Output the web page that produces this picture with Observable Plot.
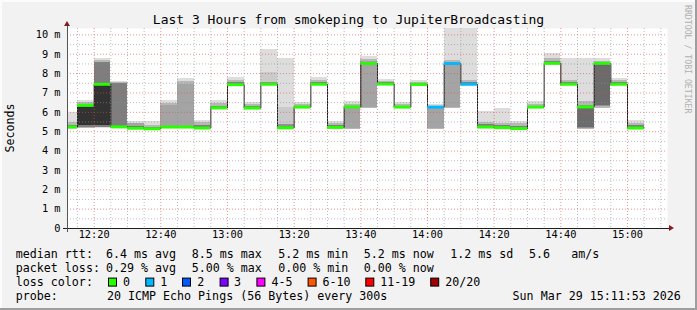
<!DOCTYPE html>
<html><head><meta charset="utf-8">
<script src="https://cdn.jsdelivr.net/npm/d3@7"></script>
<script src="https://cdn.jsdelivr.net/npm/@observablehq/plot@0.6"></script>
<style>
html,body{margin:0;padding:0;background:#f2f2f2;}
#chart{position:relative;width:697px;height:310px;overflow:hidden;}
#chart svg{display:block;}
</style></head><body><div id="chart"></div>
<script>
// ---- data ----
const intervalStarts = ["12:10","12:15","12:20","12:25","12:30","12:35","12:40","12:45","12:50","12:55",
  "13:00","13:05","13:10","13:15","13:20","13:25","13:30","13:35","13:40","13:45","13:50","13:55",
  "14:00","14:05","14:10","14:15","14:20","14:25","14:30","14:35","14:40","14:45","14:50","14:55","15:00"];
const medians = [5.24,6.36,7.45,5.25,5.18,5.15,5.24,5.24,5.19,6.23,7.43,6.22,7.45,5.20,6.27,7.45,5.22,6.28,
  8.52,7.46,6.27,7.44,6.27,8.52,7.45,5.24,5.21,5.16,6.27,8.53,7.45,6.28,8.53,7.45,5.19];
const losses = [0,0,0,0,0,0,0,0,0,0,0,0,0,0,0,0,0,0,0,0,0,0,1,1,1,0,0,0,0,0,0,0,0,0,0];
// smoke layers per interval: [low, high, band index 1..10]
const smokeLayers = [
  [[5.12,5.98,1],[5.16,5.45,3],[5.2,5.3,6]],
  [[5.15,6.62,1],[5.18,6.5,3],[5.22,6.42,6],[5.33,6.36,10]],
  [[5.18,8.78,1],[5.2,8.68,3],[5.24,8.56,6],[5.33,7.45,10]],
  [[5.18,7.6,1],[5.2,7.55,3],[5.24,7.5,6]],
  [[5.14,5.53,1],[5.16,5.4,4],[5.18,5.28,7]],
  [[5.1,5.52,1],[5.12,5.3,3],[5.13,5.2,6]],
  [[5.18,6.6,1],[5.2,6.45,3],[5.22,6.33,4]],
  [[5.18,7.75,1],[5.2,7.6,3],[5.22,7.45,4]],
  [[5.15,5.58,1],[5.17,5.45,3],[5.18,5.3,6]],
  [[6.15,6.62,1],[6.18,6.45,3],[6.2,6.32,6]],
  [[7.35,7.82,1],[7.38,7.65,3],[7.4,7.52,6]],
  [[6.15,6.52,1],[6.18,6.4,3],[6.2,6.3,6]],
  [[7.38,9.24,1],[7.4,8.05,2],[7.42,7.55,5]],
  [[5.15,8.8,1],[5.16,6.27,2],[5.18,5.36,5]],
  [[6.2,6.52,1],[6.22,6.4,3],[6.24,6.32,6]],
  [[7.38,7.82,1],[7.4,7.65,3],[7.42,7.52,6]],
  [[5.15,5.53,1],[5.18,5.42,3],[5.2,5.3,6]],
  [[5.1,6.56,1],[5.12,6.42,3],[5.15,6.3,4]],
  [[6.2,8.9,1],[6.22,8.75,3],[6.27,8.6,4]],
  [[7.38,7.7,1],[7.4,7.6,3],[7.42,7.52,6]],
  [[6.2,6.5,1],[6.22,6.4,3],[6.24,6.32,6]],
  [[7.38,7.65,1],[7.4,7.56,3],[7.42,7.5,6]],
  [[5.1,6.4,1],[5.12,6.32,3],[5.14,6.2,4]],
  [[6.2,10.6,1],[6.22,8.7,3],[6.27,8.55,4]],
  [[7.38,10.6,1],[7.4,7.65,3],[7.42,7.52,6]],
  [[5.18,6.05,1],[5.2,5.5,3],[5.22,5.38,6]],
  [[5.15,6.18,1],[5.18,5.42,3],[5.2,5.3,6]],
  [[5.1,5.53,1],[5.12,5.4,3],[5.14,5.25,6]],
  [[6.2,6.56,1],[6.22,6.42,3],[6.24,6.32,6]],
  [[8.45,9.02,1],[8.48,8.8,3],[8.5,8.65,6]],
  [[7.38,8.8,1],[7.4,7.65,3],[7.42,7.52,6]],
  [[5.1,8.78,1],[5.12,6.55,3],[5.18,6.35,5],[5.24,6.27,7]],
  [[6.2,8.78,1],[6.22,8.65,3],[6.3,8.55,5],[6.35,8.5,7]],
  [[7.38,7.77,1],[7.4,7.62,3],[7.42,7.52,6]],
  [[5.15,5.58,1],[5.17,5.42,3],[5.18,5.3,6]]
];
const xTickLabels = ["12:20","12:40","13:00","13:20","13:40","14:00","14:20","14:40","15:00"];
const yTickValues = [0,1,2,3,4,5,6,7,8,9,10];
const yTickLabels = ["0","1 m","2 m","3 m","4 m","5 m","6 m","7 m","8 m","9 m","10 m"];
const yMinorValues = [0.5,1.5,2.5,3.5,4.5,5.5,6.5,7.5,8.5,9.5];
const lossLabels = ["0","1","2","3","4-5","6-10","11-19","20/20"];
const lossColors = ["#26ff00","#00b8ff","#0059ff","#7e00ff","#ff00ff","#ff5500","#ff0000","#a10000"];
const lossUpper = [0,1,2,3,5,10,19,20];
const legendRtt = ["median rtt:","6.4 ms avg","8.5 ms max","5.2 ms min","5.2 ms now","1.2 ms sd","5.6","am/s"];
const legendLoss = ["packet loss:","0.29 % avg","5.00 % max","0.00 % min","0.00 % now"];
const probeText = ["probe:","20 ICMP Echo Pings (56 Bytes) every 300s","Sun Mar 29 15:11:53 2026"];
const titleText = "Last 3 Hours from smokeping to JupiterBroadcasting";

// ---- build ----
const toDate = s => { const [h,m] = s.split(":").map(Number); return new Date(Date.UTC(2026,2,29,h,m)); };
const STEP = 300000;
const start = toDate("12:12"), end = toDate("15:12");
const rows = intervalStarts.map((s,i) => ({t0: toDate(s), t1: new Date(+toDate(s)+STEP), med: medians[i], loss: losses[i]}));
const smokeRows = smokeLayers.flatMap((layers,i) => layers.map(([lo,hi,k]) => ({t0: rows[i].t0, t1: rows[i].t1, lo, hi, k})));
const smokeGray = k => { const v = Math.floor(190/10*(10-k))+50; return `rgb(${v},${v},${v})`; };
const lossColor = n => lossColors[lossUpper.findIndex(u => n <= u)];
const linePts = rows.map(r => ({t: r.t0, v: r.med})).concat([{t: rows[rows.length-1].t1, v: rows[rows.length-1].med}]);
const xMajor = xTickLabels.map(toDate);
const xMinor = d3.utcMinute.every(5).range(start, end).filter(d => d > start && d.getUTCMinutes() % 20 !== 0);

const W = 697, H = 310, mL = 67, mR = 30, mT = 28, mB = 82;
const FONT = "DejaVu Sans Mono";
const gridMinor = {stroke: "#8f8f8f", strokeOpacity: 0.6, strokeDasharray: "1,2"};
const gridMajor = {stroke: "#de4f4f", strokeOpacity: 0.6, strokeDasharray: "1,2"};

const svg = Plot.plot({
  width: W, height: H, marginLeft: mL, marginRight: mR, marginTop: mT, marginBottom: mB,
  style: {fontFamily: FONT, background: "transparent", overflow: "visible", color: "#000"},
  x: {type: "utc", domain: [start, end], axis: null},
  y: {domain: [0, 10.33], axis: null},
  color: {type: "identity"},
  marks: [
    Plot.frame({fill: "white", stroke: "none"}),
    Plot.rect(smokeRows, {x1: "t0", x2: "t1", y1: "lo", y2: "hi", fill: d => smokeGray(d.k), clip: true, shapeRendering: "crispEdges"}),
    Plot.line(linePts, {x: "t", y: "v", curve: "step-after", stroke: "#202020", strokeWidth: 1, clip: true}),
    Plot.ruleY(rows, {x1: "t0", x2: "t1", y: "med", stroke: d => lossColor(d.loss), strokeWidth: 3, clip: true}),
    Plot.ruleX(xMinor, {x: d => d, ...gridMinor}),
    Plot.ruleY(yMinorValues, {y: d => d, ...gridMinor}),
    Plot.ruleX(xMajor, {x: d => d, ...gridMajor}),
    Plot.ruleY(yTickValues.filter(v => v > 0), {y: d => d, ...gridMajor}),
    Plot.ruleY([0], {stroke: "#1f1f1f", insetLeft: -4, insetRight: -4}),
    Plot.ruleX([start], {stroke: "#555", insetTop: -4, insetBottom: -4}),
    Plot.text(yTickValues, {y: d => d, frameAnchor: "left", textAnchor: "end", dx: -7, text: (d,i) => yTickLabels[i], fontSize: 10.3, fill: "#000"}),
    Plot.text(xMajor, {x: d => d, frameAnchor: "bottom", dy: 9.6, text: (d,i) => xTickLabels[i], fontSize: 10.3, fill: "#000"})
  ]
});

const s = d3.select(svg);
s.style("font-family", FONT);
// background and 3D border
s.insert("rect", ":first-child").attr("x",0).attr("y",0).attr("width",W).attr("height",H).attr("fill","#f2f2f2");
s.append("rect").attr("x",0).attr("y",0).attr("width",W).attr("height",2).attr("fill","#fcfcfc");
s.append("rect").attr("x",0).attr("y",0).attr("width",2).attr("height",H).attr("fill","#fcfcfc");
s.append("rect").attr("x",W-2).attr("y",0).attr("width",2).attr("height",H).attr("fill","#9e9e9e");
s.append("rect").attr("x",0).attr("y",H-2).attr("width",W).attr("height",2).attr("fill","#9e9e9e");
// arrows
const x0 = mL, x1 = W - mR, y0 = H - mB, yT = mT;
s.append("path").attr("d", `M${x1+2},${y0-3}L${x1+2},${y0+3}L${x1+7},${y0}Z`).attr("fill","#801f1f");
s.append("path").attr("d", `M${x0-3},${yT-2}L${x0+3},${yT-2}L${x0},${yT-7}Z`).attr("fill","#801f1f");
// title
s.append("text").attr("x", 348.5).attr("y", 24).attr("text-anchor","middle").attr("font-size", 13).attr("fill","#000").text(titleText);
// vertical label
s.append("text").attr("transform","translate(14.3,128) rotate(-90)").attr("text-anchor","middle").attr("font-size",11.65).attr("fill","#000").text("Seconds");
// watermark
s.append("text").attr("transform","translate(685,5) rotate(90)").attr("text-anchor","start").attr("font-size",8.2).attr("fill","#b0b0b0").text("RRDTOOL / TOBI OETIKER");
// legend
const LF = 11.65;
const put = (t, x, y) => s.append("text").attr("x", x).attr("y", y).attr("text-anchor","start").attr("font-size", LF).attr("fill","#000").attr("xml:space","preserve").text(t);
const rttX = [15.8,106,191.7,278.3,363.7,450.3,529,571.3];
legendRtt.forEach((t,i) => put(t, rttX[i], 258.3));
const lossX = [15.8,106,191.7,278.3,363.7];
legendLoss.forEach((t,i) => put(t, lossX[i], 272.2));
put("loss color:", 15.8, 286.1);
const boxX = [108,145.3,182,219.6,256.4,307.6,365.3,430.2];
const boxLabelX = [123,160.3,197.2,234,271.4,322.4,380.3,445.2];
lossLabels.forEach((t,i) => {
  s.append("rect").attr("x", boxX[i]+0.5).attr("y", 277.6+0.5).attr("width", 8).attr("height", 8).attr("fill", lossColors[i]).attr("stroke","#000").attr("stroke-width",1);
  put(t, boxLabelX[i], 286.1);
});
put(probeText[0], 15.8, 300);
put(probeText[1], 107, 300);
put(probeText[2], 512.6, 300);

document.getElementById("chart").appendChild(svg);
</script></body></html>
